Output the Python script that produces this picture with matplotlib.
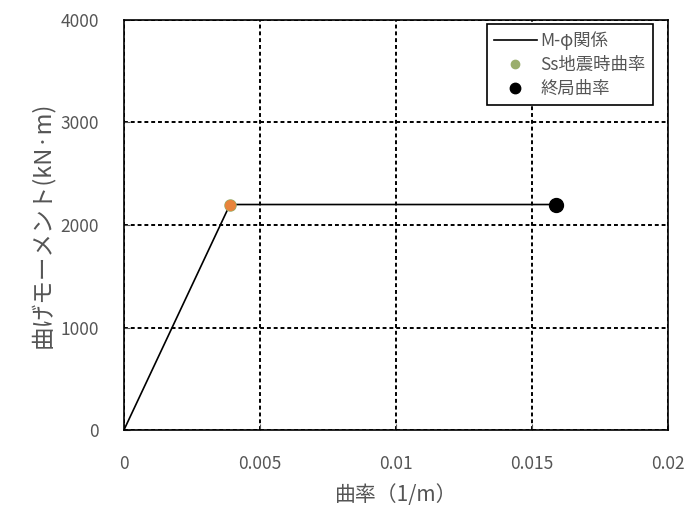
import matplotlib
matplotlib.use("Agg")
import matplotlib.pyplot as plt

plt.rcParams['font.family'] = ['Noto Sans CJK JP', 'DejaVu Sans']

# M-phi relation (curvature 1/m, moment kN*m)
curv = [0.0, 0.0039, 0.0159]
moment = [0.0, 2200.0, 2200.0]
ss_curv = [0.0039]
ss_moment = [2200.0]
ult_curv = [0.0159]
ult_moment = [2200.0]

xticks = [0, 0.005, 0.01, 0.015, 0.02]
xticklabels = ['0', '0.005', '0.01', '0.015', '0.02']
yticks = [0, 1000, 2000, 3000, 4000]

fig = plt.figure(figsize=(7, 5.12), dpi=100)
ax = fig.add_axes([0.177, 0.16, 0.777, 0.801])

ax.plot(curv, moment, color='black', lw=1.2, label='M-φ関係')
ax.plot(ss_curv, ss_moment, 'o', color='#9aae6c', ms=8, label='Ss地震時曲率', zorder=3)
ax.plot(ss_curv, ss_moment, 'o', color='#e8843c', ms=7, zorder=4)
ax.plot(ult_curv, ult_moment, 'o', color='black', ms=10, label='終局曲率', zorder=4)

ax.set_xlim(0, 0.02)
ax.set_ylim(0, 4000)
ax.set_xticks(xticks)
ax.set_xticklabels(xticklabels)
ax.set_yticks(yticks)
ax.grid(True, color='black', linestyle=(0, (2, 1.5)), lw=1.4)
for s in ax.spines.values():
    s.set_linewidth(1.2)
ax.tick_params(colors='#555555', labelsize=12.5, length=4, direction='in', pad=18)
ax.tick_params(axis='x', pad=18)

ax.set_xlabel('曲率（1/m）', fontsize=15, color='#555555', labelpad=8)
ax.set_ylabel('曲げモーメント(kN·m)', fontsize=17, color='#555555', labelpad=4)

leg = ax.legend(loc='upper right', bbox_to_anchor=(0.972, 0.99), borderaxespad=0,
                fontsize=12.5, frameon=True, fancybox=False, framealpha=1,
                edgecolor='black', handlelength=2.5, handletextpad=0.2,
                labelspacing=0.35, markerscale=0.75)
leg.get_frame().set_linewidth(1.2)
for t in leg.get_texts():
    t.set_color('#555555')

fig.savefig('out.png')
